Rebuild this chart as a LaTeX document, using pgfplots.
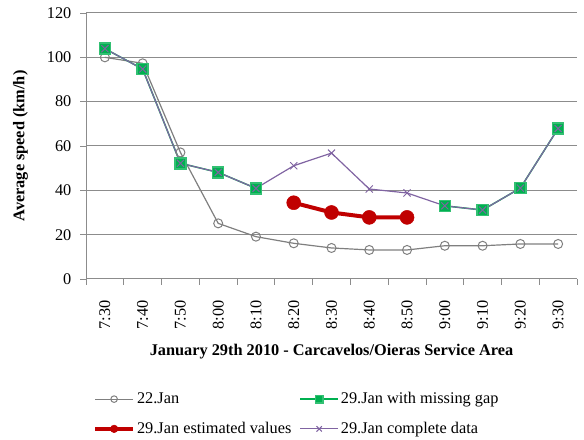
\documentclass[border=0pt]{standalone}
\usepackage{fontspec}
\setmainfont{Liberation Serif}
\usepackage{pgfplots}
\pgfplotsset{compat=1.18}
\definecolor{cgray}{HTML}{7F7F7F}
\definecolor{cgreen}{HTML}{00B050}
\definecolor{cred}{HTML}{C00000}
\definecolor{cpurple}{HTML}{8064A2}
\definecolor{gridc}{HTML}{8C8C8C}
\newcommand{\fs}{\fontsize{16.3bp}{19bp}\selectfont}
\begin{document}
\fs
\begin{tikzpicture}[x=1bp,y=1bp]
\useasboundingbox (0,0) rectangle (584,440);
\begin{axis}[
  scale only axis,
  width=491bp, height=266bp,
  at={(86bp,161bp)}, anchor=south west,
  xmin=-0.5, xmax=12.5,
  ymin=0, ymax=120,
  ytick={0,20,...,120},
  xtick={0,...,12},
  xticklabels={7:30,7:40,7:50,8:00,8:10,8:20,8:30,8:40,8:50,9:00,9:10,9:20,9:30},
  minor xtick={-0.5,0.5,...,12.5},
  major x tick style={draw=none},
  minor x tick style={gridc, line width=0.8pt},
  y tick style={gridc, line width=0.8pt},
  tick align=outside,
  major tick length=6bp, minor tick length=6bp,
  x tick label style={rotate=90, anchor=east, xshift=-10bp},
  y tick label style={xshift=-3bp},
  axis x line*=bottom, axis y line*=left,
  axis line style={gridc, line width=1pt, -},
  ymajorgrids, grid style={gridc, line width=1pt},
  /pgf/number format/assume math mode=true,
  ticklabel style={font=\fs},
  xlabel={\textbf{January 29th 2010 - Carcavelos/Oieras Service Area}},
  ylabel={\textbf{Average speed (km/h)}},
  label style={font=\fs},
  xlabel style={yshift=-4bp},
  ylabel style={yshift=8bp},
  unbounded coords=jump,
  legend columns=2,
  legend style={at={(0.008,-0.41)}, anchor=north west, draw=none, fill=none,
    font=\fs, row sep=12bp,
    /tikz/every even column/.append style={column sep=6bp}},
  legend cell align=left,
  legend image code/.code={
    \draw[mark repeat=2,mark phase=2] plot coordinates {(0bp,0bp) (19bp,0bp) (38bp,0bp)};},
]
\addplot[cgray, line width=1.2pt, mark=o, mark size=4.5bp, mark options={fill=white, line width=1pt},
  legend image post style={mark size=3.3bp}]
 coordinates {(0,100)(1,97.3)(2,57.1)(3,25.1)(4,19.1)(5,16.1)(6,14)(7,13.1)(8,13.1)(9,15)(10,15)(11,15.8)(12,15.8)};
\addlegendentry{22.Jan}
\addplot[cgreen, line width=1.5pt, mark=square*, mark size=5.5bp, mark options={fill=cgreen, draw=cgreen!80!white},
  legend image post style={mark size=3.8bp}]
 coordinates {(0,103.9)(1,94.7)(2,52.2)(3,48.1)(4,40.9)(5,nan)(6,nan)(7,nan)(8,nan)(9,33)(10,31.1)(11,41)(12,67.9)};
\addlegendentry{29.Jan with missing gap}
\addplot[cred, line width=4pt, mark=*, mark size=7bp, mark options={fill=cred, line width=0.5pt},
  legend image post style={mark size=3.8bp}]
 coordinates {(5,34.4)(6,30)(7,27.8)(8,27.8)};
\addlegendentry{29.Jan estimated values}
\addplot[cpurple, line width=1.2pt, mark=x, mark size=5bp, mark options={line width=1pt},
  legend image post style={mark size=3.8bp}]
 coordinates {(0,103.9)(1,94.7)(2,52.2)(3,48.1)(4,40.9)(5,51.1)(6,56.8)(7,40.6)(8,38.8)(9,33)(10,31.1)(11,41)(12,67.9)};
\addlegendentry{29.Jan complete data}
\end{axis}
\end{tikzpicture}
\end{document}
